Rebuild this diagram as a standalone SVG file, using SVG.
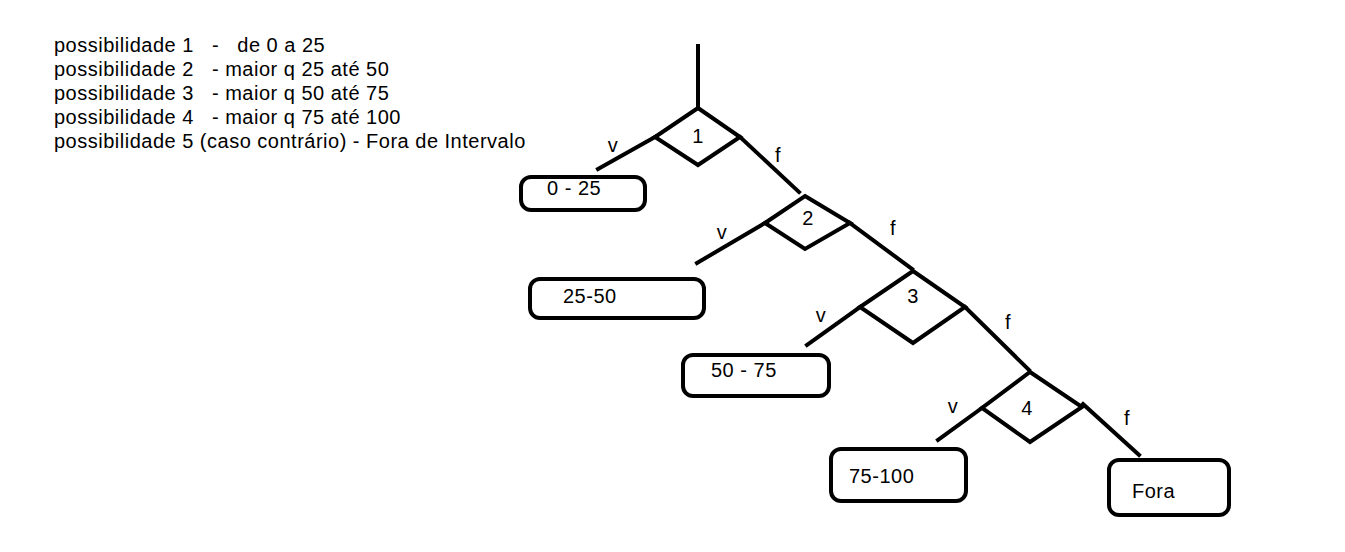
<svg xmlns="http://www.w3.org/2000/svg" width="1345" height="552" viewBox="0 0 1345 552">
<style>
text{font-family:"Liberation Sans",Arial,sans-serif;font-size:20px;fill:#000;letter-spacing:0.5px;white-space:pre}
.ln{stroke:#000;stroke-width:4;fill:none;stroke-linecap:square}
.dia{stroke:#000;stroke-width:4;fill:#fff;stroke-linejoin:miter}
.box{stroke:#000;stroke-width:4;fill:#fff}
.m{text-anchor:middle}
</style>
<rect width="1345" height="552" fill="#fff"/>
<g id="legend" xml:space="preserve">
<text x="54" y="52">possibilidade 1   -   de 0 a 25</text>
<text x="54" y="76">possibilidade 2   - maior q 25 até 50</text>
<text x="54" y="100">possibilidade 3   - maior q 50 até 75</text>
<text x="54" y="124">possibilidade 4   - maior q 75 até 100</text>
<text x="54" y="148">possibilidade 5 (caso contrário) - Fora de Intervalo</text>
</g>
<g id="connectors">
<line class="ln" x1="698" y1="46" x2="698" y2="107"/>
<line class="ln" x1="655" y1="137" x2="598" y2="169"/>
<line class="ln" x1="740" y1="137" x2="799" y2="192"/>
<line class="ln" x1="765" y1="223" x2="697" y2="263"/>
<line class="ln" x1="850" y1="223" x2="912" y2="269"/>
<line class="ln" x1="860" y1="307" x2="807" y2="345"/>
<line class="ln" x1="965" y1="307" x2="1029" y2="370"/>
<line class="ln" x1="982" y1="408" x2="938" y2="440"/>
<line class="ln" x1="1083" y1="404" x2="1139" y2="455"/>
<text class="m" x="613" y="152">v</text>
<text class="m" x="778" y="162">f</text>
<text class="m" x="722" y="239">v</text>
<text class="m" x="893" y="235">f</text>
<text class="m" x="821" y="322">v</text>
<text class="m" x="1008" y="329">f</text>
<text class="m" x="953" y="413">v</text>
<text class="m" x="1127" y="425">f</text>
</g>
<g id="d1"><polygon class="dia" points="698,108 740,137 698,165 655,137"/><text class="m" x="698" y="143">1</text></g>
<g id="d2"><polygon class="dia" points="805,196 850,223 805,249 765,223"/><text class="m" x="808" y="225">2</text></g>
<g id="d3"><polygon class="dia" points="913,271 965,307 913,343 860,307"/><text class="m" x="913" y="303">3</text></g>
<g id="d4"><polygon class="dia" points="1030,372 1082,407 1030,442 982,408"/><text class="m" x="1027" y="415">4</text></g>
<g id="b1"><rect class="box" x="521" y="177" width="124" height="33" rx="10"/><text x="547" y="195">0 - 25</text></g>
<g id="b2"><rect class="box" x="530" y="279" width="174" height="39" rx="10"/><text x="563" y="303">25-50</text></g>
<g id="b3"><rect class="box" x="683" y="355" width="146" height="41" rx="10"/><text x="711" y="377">50 - 75</text></g>
<g id="b4"><rect class="box" x="831" y="449" width="135" height="52" rx="10"/><text x="849" y="483">75-100</text></g>
<g id="b5"><rect class="box" x="1109" y="460" width="120" height="55" rx="10"/><text x="1132" y="498">Fora</text></g>
</svg>
